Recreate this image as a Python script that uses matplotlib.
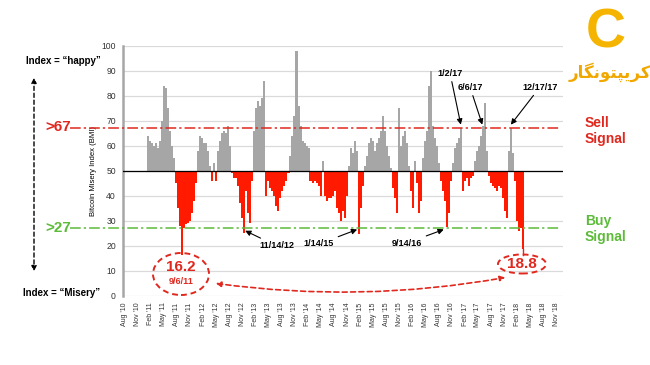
import numpy as np
import pandas as pd
import matplotlib
matplotlib.use("Agg")
import matplotlib.pyplot as plt
from matplotlib.patches import Ellipse, FancyArrowPatch
from matplotlib.transforms import blended_transform_factory

plt.rcParams['font.family'] = ['Liberation Sans', 'DejaVu Sans']

# Bitcoin Misery Index, read roughly every two weeks from mid Jan 2011
start_date = "2011-01-12"
bmi = [64, 62, 61, 60, 61, 59, 62, 70, 84, 83, 75, 66, 60, 55, 45, 35, 28, 16.2,
       27, 28.5, 29, 30, 33, 38, 45, 58, 64, 63, 61, 61, 58, 52, 46, 53, 46, 58,
       62, 65, 66, 65, 68, 60, 49, 47, 47, 44, 37, 31, 25, 42, 33, 29, 46, 66,
       75, 78, 76, 79, 86, 40, 46, 43, 42, 40, 36, 34, 39, 42, 44, 46, 49, 56,
       64, 72, 98, 76, 68, 62, 61, 60, 59, 46, 45, 46, 45, 44, 40, 54, 40, 38,
       39, 39, 40, 42, 35, 33, 30, 34, 31, 40, 52, 59, 57, 62, 58, 24.8, 35, 44,
       52, 56, 61, 63, 62, 58, 61, 63, 66, 72, 66, 60, 56, 51, 43, 39, 33, 75,
       60, 64, 66, 61, 52, 42, 35, 54, 45, 33, 38, 55, 62, 66, 84, 90, 68, 63,
       60, 53, 46, 42, 38, 27.5, 33, 46, 53, 59, 61, 63, 67.3, 42, 46, 47, 44,
       47, 48, 54, 58, 60, 64, 68, 77, 58, 48, 45, 44, 43, 42, 44, 43, 39, 34,
       31, 58, 67, 57, 46, 30, 26, 27, 18.8]
dates = pd.date_range(start_date, periods=len(bmi), freq="14D")

sell_level = 67
buy_level = 27
mid_level = 50

# label, date the arrow points at, level it points at
callouts = [("11/14/12", "2012-11-20", 26.0),
            ("1/14/15", "2015-01-10", 26.5),
            ("9/14/16", "2016-09-05", 26.5),
            ("1/2/17", "2017-01-02", 68.5),
            ("6/6/17", "2017-06-01", 68.5),
            ("12/17/17", "2017-12-17", 68.5)]

RED = "#FF1A00"
LINE_RED = "#E0281E"
GREEN = "#5DBB3A"
GRAY = "#A6A6A6"

W, H = 650, 365


def px(x, y):
    # pixel position in the 650x365 picture -> figure fraction
    return (x / W, 1 - y / H)


fig = plt.figure(figsize=(6.5, 3.65), dpi=100)
ax = fig.add_axes([0.189, 0.190, 0.677, 0.684])

vals = np.array(bmi)
colors = [GRAY if v >= mid_level else RED for v in vals]
ax.bar(dates, vals - mid_level, bottom=mid_level, width=14.6, color=colors,
       linewidth=0, zorder=2)

ax.set_ylim(0, 100)
ax.set_xlim(pd.Timestamp("2010-07-21"), pd.Timestamp("2018-12-15"))
ax.set_yticks(range(0, 101, 10))
ticks = pd.date_range("2010-08-01", "2018-11-01", freq="3MS")
ax.set_xticks(ticks)
ax.set_xticklabels([t.strftime("%b '%y") for t in ticks], rotation=90, fontsize=5)
ax.tick_params(axis='x', length=0, pad=5, colors='#333333')
ax.tick_params(axis='y', length=0, pad=5, labelsize=6.2, colors='#333333')
ax.yaxis.grid(True, color='#DADADA', lw=0.9)
ax.set_axisbelow(True)
for s in ['top', 'right', 'bottom']:
    ax.spines[s].set_visible(False)
ax.spines['left'].set_color(GRAY)
ax.spines['left'].set_linewidth(1.8)
ax.set_ylabel("Bitcoin Misery Index (BMI)", fontsize=5.5, labelpad=3)

ax.axhline(mid_level, color='black', lw=0.9, zorder=3)

# threshold lines reach out to the left labels
tr = blended_transform_factory(fig.transFigure, ax.transData)
ax.plot([70 / W, 560 / W], [sell_level, sell_level], transform=tr, color=LINE_RED,
        lw=1.1, ls=(0, (7, 2, 1.5, 2)), clip_on=False, zorder=4)
ax.plot([70 / W, 560 / W], [buy_level, buy_level], transform=tr, color=GREEN,
        lw=1.1, ls=(0, (7, 2, 1.5, 2)), clip_on=False, zorder=4)

fig.text(*px(58, 127), ">67", color=LINE_RED, fontsize=11, fontweight='bold',
         ha='center', va='center')
fig.text(*px(58, 228), ">27", color=GREEN, fontsize=11, fontweight='bold',
         ha='center', va='center')
fig.text(*px(585, 131), "Sell\nSignal", color=LINE_RED, fontsize=10, fontweight='bold',
         ha='left', va='center', linespacing=1.25)
fig.text(*px(585, 229), "Buy\nSignal", color=GREEN, fontsize=10, fontweight='bold',
         ha='left', va='center', linespacing=1.25)

fig.text(*px(63, 61), "Index = \u201chappy\u201d", fontsize=7, fontweight='bold',
         ha='center', va='center')
fig.text(*px(62, 293), "Index = \u201cMisery\u201d", fontsize=7, fontweight='bold',
         ha='center', va='center')
fig.patches.append(FancyArrowPatch(px(34, 75), px(34, 274), transform=fig.transFigure,
                                   arrowstyle='<|-|>,head_length=3,head_width=1.5',
                                   linestyle=(0, (3, 2)), color='black', lw=1))

text_pos = [(277, 246), (319, 244), (407, 243), (450, 73), (470, 87), (540, 87)]
for (label, d, lvl), (tx, ty) in zip(callouts, text_pos):
    ax.annotate(label, xy=(pd.Timestamp(d), lvl), xytext=px(tx, ty),
                textcoords='figure fraction', ha='center', va='center',
                fontsize=6.5, fontweight='bold',
                arrowprops=dict(arrowstyle='-|>,head_length=0.5,head_width=0.25',
                                color='black', lw=0.8, shrinkA=1, shrinkB=0))

# low point circles
fig.patches.append(Ellipse(px(181, 274), 56 / W, 42 / H, transform=fig.transFigure,
                           fill=False, ec=LINE_RED, lw=1.4, ls=(0, (3, 2))))
fig.text(*px(181, 267), "16.2", color=LINE_RED, fontsize=11, fontweight='bold',
         ha='center', va='center')
fig.text(*px(181, 281), "9/6/11", color=LINE_RED, fontsize=6.5, fontweight='bold',
         ha='center', va='center')
fig.patches.append(Ellipse(px(522, 264), 48 / W, 19 / H, transform=fig.transFigure,
                           fill=False, ec=LINE_RED, lw=1.4, ls=(0, (3, 2))))
fig.text(*px(522, 264), "18.8", color=LINE_RED, fontsize=11, fontweight='bold',
         ha='center', va='center')
ax.plot([dates[-1], dates[-1]], [bmi[-1], 16.3], color=LINE_RED, lw=1, clip_on=False)
fig.patches.append(FancyArrowPatch(px(213, 283), px(508, 277), transform=fig.transFigure,
                                   connectionstyle='arc3,rad=0.08',
                                   arrowstyle='<|-|>,head_length=3,head_width=1.5',
                                   linestyle=(0, (3, 2)), color=LINE_RED, lw=1.2))

# watermark logo
fig.text(*px(606, 34), "C", color='#F5B400', fontsize=40, fontweight='bold',
         ha='center', va='center')
logo = "\uFEAD\uFE8E\uFB95\uFEE7\uFEEE\uFE98\uFB59\uFBFE\uFEAE\uFB90"
fig.text(*px(610, 72), logo, color='#F0A800', fontsize=12, fontweight='bold',
         family=['DejaVu Sans'], ha='center', va='center')

fig.savefig("out.png", dpi=100)
